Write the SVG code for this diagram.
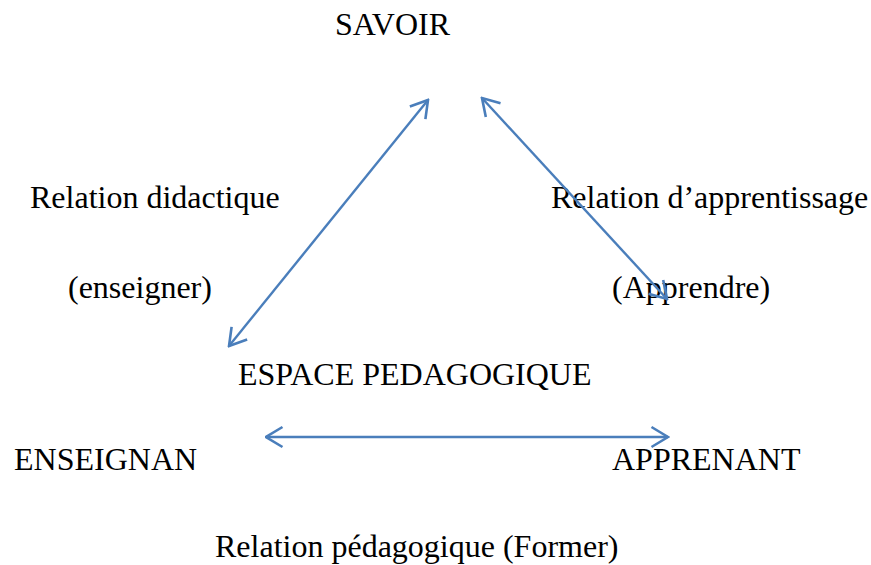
<svg xmlns="http://www.w3.org/2000/svg" width="871" height="565" viewBox="0 0 871 565">
<defs>
<style>
text{font-family:"Liberation Serif","Times New Roman",serif;font-size:32px;fill:#000}
.c{stroke:#4a7ebb;stroke-width:2.4;fill:none}
</style>
<marker id="ah" viewBox="0 0 20 24" refX="18.5" refY="12" markerWidth="20" markerHeight="24" orient="auto-start-reverse" markerUnits="userSpaceOnUse">
<path d="M2,2 L18.5,12 L2,22" fill="none" stroke="#4a7ebb" stroke-width="2.6" stroke-linejoin="miter"/>
</marker>
</defs>
<rect width="871" height="565" fill="#fff"/>
<g id="savoir"><text x="335" y="35">SAVOIR</text></g>
<g id="relation-didactique"><text x="30" y="208">Relation didactique</text><text x="68" y="298">(enseigner)</text></g>
<g id="relation-apprentissage"><text x="551" y="208">Relation d’apprentissage</text><text x="612" y="298">(Apprendre)</text></g>
<g id="espace"><text x="238" y="385">ESPACE PEDAGOGIQUE</text></g>
<g id="enseignant"><text x="14" y="470">ENSEIGNAN</text></g>
<g id="apprenant"><text x="612" y="470">APPRENANT</text></g>
<g id="relation-pedagogique"><text x="215" y="557">Relation pédagogique (Former)</text></g>
<g id="connectors">
<line class="c" x1="428" y1="100" x2="229" y2="346" marker-start="url(#ah)" marker-end="url(#ah)"/>
<line class="c" x1="482" y1="98" x2="667" y2="299" marker-start="url(#ah)" marker-end="url(#ah)"/>
<line class="c" x1="266" y1="437" x2="668" y2="437" marker-start="url(#ah)" marker-end="url(#ah)"/>
</g>
</svg>
